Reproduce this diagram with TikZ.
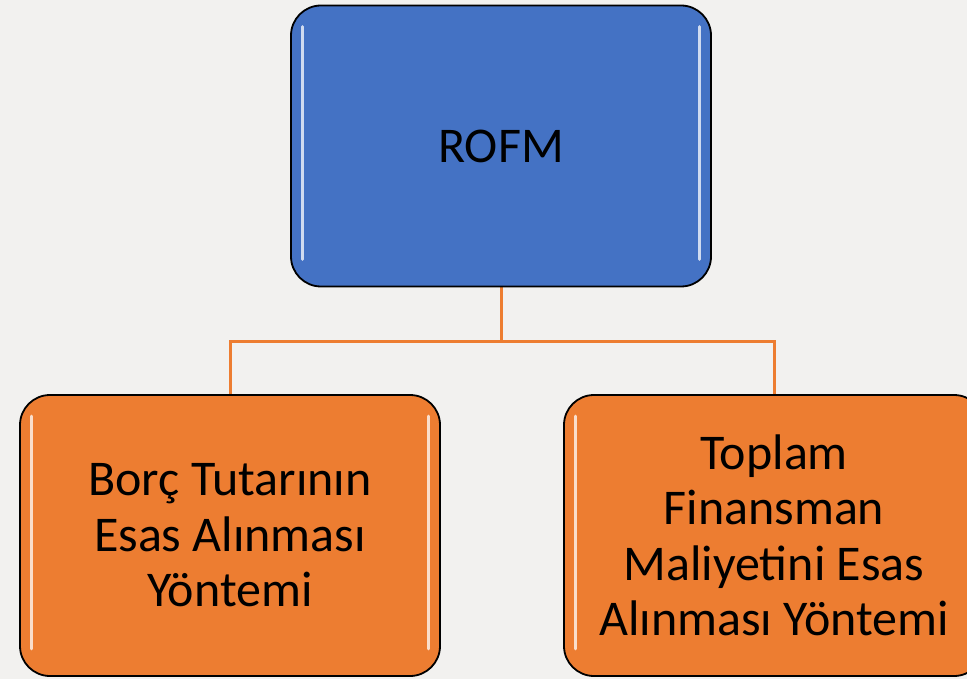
\documentclass[tikz,border=0pt]{standalone}
\usepackage{fontspec}
\setmainfont{Carlito}
\usetikzlibrary{backgrounds}
\definecolor{bg}{HTML}{F2F1EF}
\definecolor{blu}{HTML}{4472C4}
\definecolor{org}{HTML}{ED7D31}
\begin{document}
\begin{tikzpicture}[x=1pt,y=-1pt,
  box/.style={draw=black, line width=1.8pt, rounded corners=30pt, minimum width=420pt, minimum height=281pt, align=center, font=\fontsize{50}{55.5}\selectfont, inner sep=0pt},
  conn/.style={draw=org, line width=3pt},
  glint/.style={draw=white, opacity=0.75, line width=3pt, line cap=round}]
\useasboundingbox (0,0) rectangle (967,679);
\node[box, fill=blu] (root) at (501,146) {ROFM};
\node[box, fill=org] (left) at (230,535.5) {Borç Tutarının\\Esas Alınması\\Yöntemi};
\node[box, fill=org] (right) at (774,535.5) {Toplam\\Finansman\\Maliyetini Esas\\Alınması Yöntemi};
\coordinate (j) at (501,341);
\foreach \n in {root,left,right} {
  \draw[glint] ([shift={(12,22)}]\n.north west) -- ([shift={(12,-28)}]\n.south west);
  \draw[glint] ([shift={(-12,22)}]\n.north east) -- ([shift={(-12,-28)}]\n.south east);
}
\begin{scope}[on background layer]
  \fill[bg] (0,0) rectangle (967,679);
  \draw[conn] (root.south) -- (j);
  \draw[conn] (left.north) |- (j) -| (right.north);
\end{scope}
\end{tikzpicture}
\end{document}
